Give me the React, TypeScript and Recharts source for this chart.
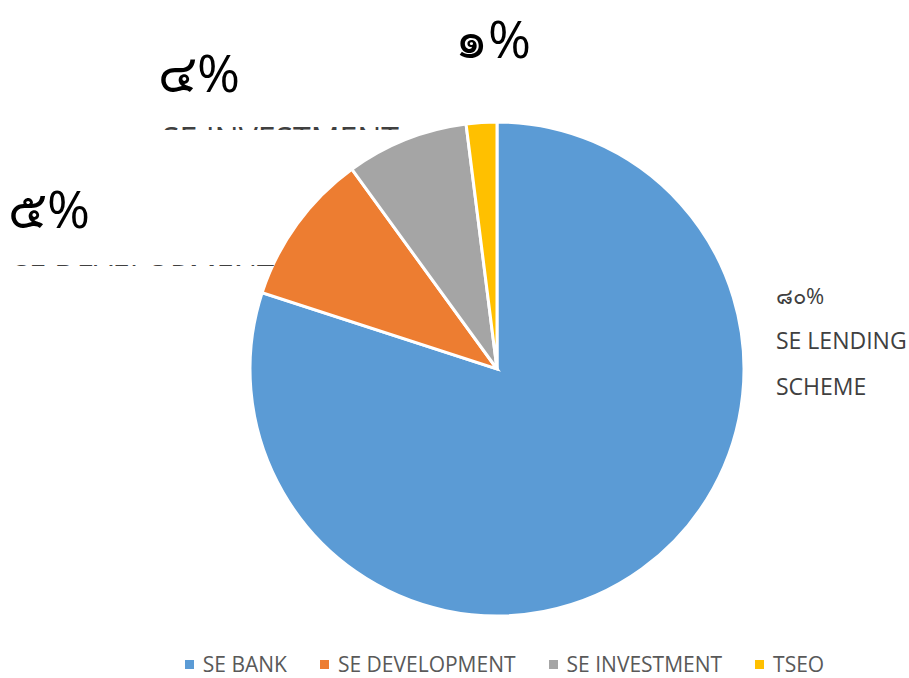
import React from 'react';
import { PieChart, Pie, Cell } from 'recharts';

// slice shares (percent)
const categories = ['SE BANK', 'SE DEVELOPMENT', 'SE INVESTMENT', 'TSEO'];
const values = [80, 10, 8, 2];
const colors = ['#5B9BD5', '#ED7D31', '#A5A5A5', '#FFC000'];
// data label texts as they appear on the chart
const percentLabels = ['๘๐%', '๕%', '๔%', '๑%'];
const nameLabels = [['SE LENDING', 'SCHEME'], ['SE DEVELOPMENT'], ['SE INVESTMENT'], []];

const data = categories.map((name, i) => ({ name, value: values[i] }));

// label placement relative to the pie centre
const labelLayout = [
  { dx: 279, dy: -65, big: false, clip: false, nameSize: 23 },
  { dx: -489, dy: -141, big: true, clip: true, nameSize: 31 },
  { dx: -339, dy: -277, big: true, clip: true, nameSize: 32 },
  { dx: -42, dy: -311, big: true, clip: false, nameSize: 32 },
];

const FONT = '"Open Sans", "Noto Sans", sans-serif';

const renderLabel = (props: any) => {
  const { cx, cy, index } = props;
  const lay = labelLayout[index];
  const x = cx + lay.dx;
  const y = cy + lay.dy;
  if (!lay.big) {
    return (
      <g key={`lbl-${index}`}>
        <text x={x} y={y} fontSize={22} fill="#404040" fontFamily={FONT}>{percentLabels[index]}</text>
        {nameLabels[index].map((t, k) => (
          <text key={k} x={x} y={y + 45 + k * 46} fontSize={lay.nameSize} fill="#404040" fontFamily={FONT}>{t}</text>
        ))}
      </g>
    );
  }
  const clipId = `clip-${index}`;
  return (
    <g key={`lbl-${index}`}>
      <text x={x} y={y} fontSize={52} fill="#000" fontFamily={FONT}>{percentLabels[index]}</text>
      {lay.clip && (
        <>
          <defs>
            <clipPath id={clipId}>
              <rect x={x - 10} y={y + 35} width={320} height={3} />
            </clipPath>
          </defs>
          {nameLabels[index].map((t, k) => (
            <text key={k} x={x + 4} y={y + 59} fontSize={lay.nameSize} fill="#404040" fontFamily={FONT} clipPath={`url(#${clipId})`}>{t}</text>
          ))}
        </>
      )}
    </g>
  );
};

const LegendRow = () => (
  <div style={{ position: 'absolute', left: 0, top: 652, width: 909, boxSizing: 'border-box', paddingLeft: 100, height: 24, display: 'flex', justifyContent: 'center', fontFamily: FONT, fontSize: 21, lineHeight: '24px', color: '#595959' }}>
    {categories.map((c, i) => (
      <div key={c} style={{ display: 'flex', alignItems: 'center', marginRight: i < categories.length - 1 ? 33 : 0 }}>
        <span style={{ width: 9, height: 9, background: colors[i], display: 'inline-block', marginRight: 9 }} />
        <span>{c}</span>
      </div>
    ))}
  </div>
);

export default function App() {
  return (
    <div style={{ position: 'absolute', left: 0, top: 0, width: 909, height: 678, background: '#fff' }}>
      <PieChart width={909} height={678}>
        <Pie
          data={data}
          dataKey="value"
          nameKey="name"
          cx={492}
          cy={364}
          outerRadius={247}
          startAngle={90}
          endAngle={-270}
          stroke="#fff"
          strokeWidth={3}
          label={renderLabel}
          labelLine={false}
          isAnimationActive={false}
        >
          {data.map((d, i) => (
            <Cell key={d.name} fill={colors[i]} />
          ))}
        </Pie>
      </PieChart>
      <LegendRow />
    </div>
  );
}
